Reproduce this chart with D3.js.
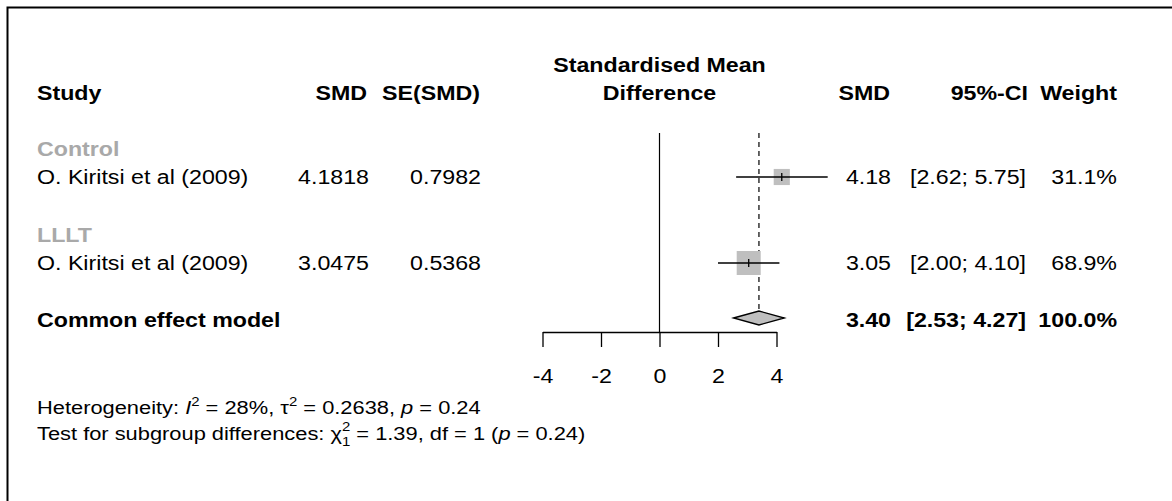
<!DOCTYPE html>
<html><head><meta charset="utf-8">
<script src="https://cdn.jsdelivr.net/npm/d3@7"></script>
<style>
html,body{margin:0;padding:0;background:#fff;}
text{font-family:"Liberation Sans",Arial,sans-serif;fill:#000;}
</style></head>
<body>
<svg id="chart" width="1172" height="501"></svg>
<script>
// ---- data ----
const groups = ["Control", "LLLT"];
const studies = ["O. Kiritsi et al (2009)", "O. Kiritsi et al (2009)"];
const smdRaw = ["4.1818", "3.0475"];
const seRaw = ["0.7982", "0.5368"];
const smd = [4.18, 3.05];
const lower = [2.62, 2.00];
const upper = [5.75, 4.10];
const weights = [31.1, 68.9];
const pooledLabel = "Common effect model";
const pooled = [3.40, 2.53, 4.27]; // est, lower, upper
const pooledWeight = 100.0;
const xTicks = [-4, -2, 0, 2, 4];
const heterogeneity = {I2: "28%", tau2: "0.2638", p: "0.24"};
const subgroupTest = {chi2: "1.39", df: "1", p: "0.24"};

// ---- layout ----
const FS = 20, SX = 1.16;
const svg = d3.select("#chart");
const x = d3.scaleLinear().domain([-4, 4]).range([542.5, 776.5]);

function txt(str, px, py, opts = {}) {
  const t = svg.append("text")
    .attr("transform", `translate(${px},${py}) scale(${opts.sx || SX},1)`)
    .attr("text-anchor", opts.anchor || "start")
    .style("font-size", (opts.size || FS) + "px")
    .style("font-weight", opts.bold ? "bold" : "normal")
    .style("fill", opts.fill || "#000");
  t.text(str);
  return t;
}

// border
svg.append("path").attr("d", "M7.5,501 V7.5 H1172")
  .attr("fill", "none").attr("stroke", "#000").attr("stroke-width", 2);

// headers
txt("Study", 37, 100, {bold: true});
txt("SMD", 367, 100, {bold: true, anchor: "end"});
txt("SE(SMD)", 480, 100, {bold: true, anchor: "end"});
txt("Standardised Mean", x(0), 72, {bold: true, anchor: "middle"});
txt("Difference", x(0), 100, {bold: true, anchor: "middle"});
txt("SMD", 890, 100, {bold: true, anchor: "end"});
txt("95%-CI", 1028, 100, {bold: true, anchor: "end"});
txt("Weight", 1117, 100, {bold: true, anchor: "end"});

const groupY = [156, 242];
const rowY = [184, 270];
const pooledY = 327;

const fmt2 = d3.format(".2f");
const maxW = d3.max(weights);
const boxMax = 24;

// reference lines
svg.append("line").attr("x1", x(0)).attr("x2", x(0)).attr("y1", 133).attr("y2", 332)
  .attr("stroke", "#000").attr("stroke-width", 1.2);
svg.append("line").attr("x1", x(pooled[0])).attr("x2", x(pooled[0])).attr("y1", 133).attr("y2", pooledY - 16)
  .attr("stroke", "#000").attr("stroke-width", 1.2).attr("stroke-dasharray", "5,4");

groups.forEach((g, i) => {
  txt(g, 37, groupY[i], {bold: true, fill: "#a9a9a9"});
  txt(studies[i], 37, rowY[i]);
  txt(smdRaw[i], 369, rowY[i], {anchor: "end"});
  txt(seRaw[i], 481, rowY[i], {anchor: "end"});
  txt(fmt2(smd[i]), 891, rowY[i], {anchor: "end"});
  txt(`[${fmt2(lower[i])}; ${fmt2(upper[i])}]`, 1026, rowY[i], {anchor: "end"});
  txt(weights[i].toFixed(1) + "%", 1117, rowY[i], {anchor: "end"});

  const cy = rowY[i] - 7;
  const s = boxMax * Math.sqrt(weights[i] / maxW);
  svg.append("rect").attr("x", x(smd[i]) - s / 2).attr("y", cy - s / 2)
    .attr("width", s).attr("height", s).attr("fill", "#bfbfbf");
  svg.append("line").attr("x1", x(lower[i])).attr("x2", x(upper[i])).attr("y1", cy).attr("y2", cy)
    .attr("stroke", "#000").attr("stroke-width", 1.3);
  svg.append("line").attr("x1", x(smd[i])).attr("x2", x(smd[i])).attr("y1", cy - 4).attr("y2", cy + 4)
    .attr("stroke", "#000").attr("stroke-width", 1.3);
});

// pooled
txt(pooledLabel, 37, pooledY, {bold: true});
txt(fmt2(pooled[0]), 891, pooledY, {bold: true, anchor: "end"});
txt(`[${fmt2(pooled[1])}; ${fmt2(pooled[2])}]`, 1026, pooledY, {bold: true, anchor: "end"});
txt(pooledWeight.toFixed(1) + "%", 1117, pooledY, {bold: true, anchor: "end"});
const dy = pooledY - 9;
svg.append("path")
  .attr("d", `M${x(pooled[1])},${dy} L${x(pooled[0])},${dy - 7} L${x(pooled[2])},${dy} L${x(pooled[0])},${dy + 7} Z`)
  .attr("fill", "#bfbfbf").attr("stroke", "#000").attr("stroke-width", 1.3);

// axis
const axis = d3.axisBottom(x).tickValues(xTicks).tickSize(15).tickSizeOuter(0).tickPadding(22)
  .tickFormat(d3.format("d"));
const ag = svg.append("g").attr("transform", "translate(0,332)").call(axis);
ag.select(".domain").attr("stroke-width", 1.3);
ag.selectAll(".tick line").attr("stroke-width", 1.3);
ag.selectAll(".tick text").style("font-size", FS + "px")
  .style("font-family", '"Liberation Sans",Arial,sans-serif')
  .attr("transform", `scale(${SX},1)`).text(d => d < 0 ? "-" + Math.abs(d) : d);

// heterogeneity text
const BS = 19, BSX = 1.15;
const h = txt("", 37, 414, {size: BS, sx: BSX});
h.append("tspan").text("Heterogeneity: ");
h.append("tspan").style("font-style", "italic").text("I");
h.append("tspan").attr("dy", -8).style("font-size", "13px").text("2");
h.append("tspan").attr("dy", 8).text(` = ${heterogeneity.I2}, τ`);
h.append("tspan").attr("dy", -8).style("font-size", "13px").text("2");
h.append("tspan").attr("dy", 8).text(` = ${heterogeneity.tau2}, `);
h.append("tspan").style("font-style", "italic").text("p");
h.append("tspan").text(` = ${heterogeneity.p}`);

const t = txt("", 37, 440, {size: BS, sx: BSX});
t.append("tspan").text("Test for subgroup differences: χ");
const chiEnd = t.node().getComputedTextLength();
t.append("tspan").attr("dy", -9).style("font-size", "13px").text("2");
t.append("tspan").attr("x", chiEnd).attr("dy", 15).style("font-size", "13px").text(subgroupTest.df);
t.append("tspan").attr("dy", -6).text(` = ${subgroupTest.chi2}, df = ${subgroupTest.df} (`);
t.append("tspan").style("font-style", "italic").text("p");
t.append("tspan").text(` = ${subgroupTest.p})`);
</script>
</body></html>
